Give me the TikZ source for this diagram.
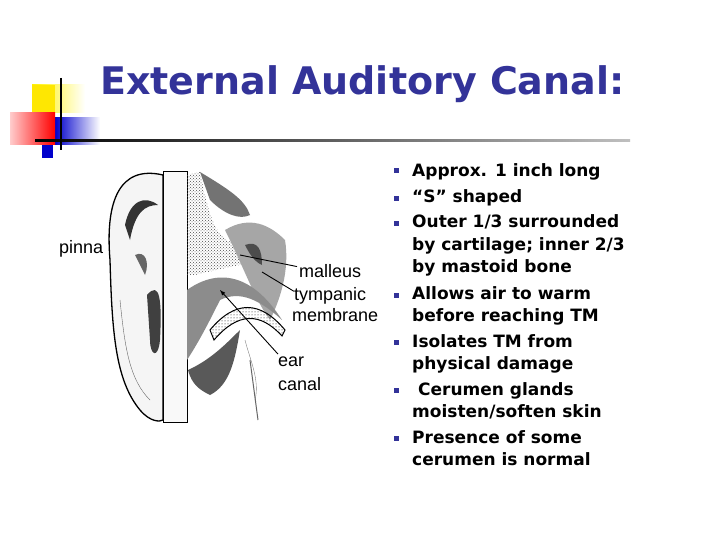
\documentclass[tikz,border=0pt]{standalone}
\usepackage{fontspec}
\setmainfont{DejaVu Sans}[BoldFont={DejaVu Sans Bold}]
\newfontfamily\labfont{Liberation Sans}
\usetikzlibrary{patterns}
\definecolor{titleblue}{HTML}{333399}
\begin{document}
\begin{tikzpicture}[x=1pt,y=-1pt,
  bul/.style={fill=titleblue,minimum size=5pt,inner sep=0pt},
  txt/.style={anchor=base west,inner sep=0pt,font=\bfseries\fontsize{17}{20}\selectfont},
  lab/.style={anchor=base west,inner sep=0pt,font=\labfont\fontsize{18}{20}\selectfont},
  ptr/.style={draw=black,line width=0.9pt}]
\useasboundingbox (0,0) rectangle (720,540);
\fill[white] (0,0) rectangle (720,540);
% decoration
\shade[left color=yellow!90!orange,right color=white] (32,85) rectangle (85,113);
\fill[yellow!90!orange] (32,85) rectangle (55,113);
\shade[left color=blue!80!black,right color=white] (55,118) rectangle (100,145);
\fill[blue!80!black] (42,145) rectangle (53,158);
\shade[left color=red!20,right color=red] (10,113) rectangle (55,145);
\shade[left color=black,right color=gray!50] (35,140) rectangle (630,142);
\draw[line width=1.6pt] (61,78) -- (61,150);
\node[anchor=base west,inner sep=0pt,text=titleblue,font=\bfseries\fontsize{38}{44}\selectfont] (title) at (100,95) {External Auditory Canal:};
% ear drawing
\draw[line width=1.3pt,fill=gray!8] (163,175) .. controls (120,165) and (105,200) .. (110,260)
  .. controls (112,330) and (115,380) .. (140,410) .. controls (150,422) and (160,422) .. (163,420) -- cycle;
\fill[black!80] (125,225) .. controls (130,200) and (145,195) .. (158,205) .. controls (145,205) and (135,212) .. (130,240) -- cycle;
\fill[black!75] (147,295) .. controls (160,280) and (162,300) .. (160,340) .. controls (158,360) and (150,355) .. (150,340) -- cycle;
\fill[black!60] (135,255) .. controls (145,250) and (150,262) .. (145,275) -- cycle;
\draw[black!60] (120,300) .. controls (125,350) and (130,380) .. (150,400);
\draw[line width=1pt,fill=gray!5] (163,172) rectangle (187,422);
\fill[pattern=crosshatch dots,pattern color=black!70] (187,175) -- (200,172) .. controls (210,220) and (215,240) .. (240,245) -- (260,235) -- (262,260) .. controls (240,265) and (215,270) .. (195,275) -- (187,275) -- cycle;
\fill[black!55] (200,172) .. controls (230,190) and (245,200) .. (250,215) .. controls (240,220) and (225,215) .. (210,200) -- cycle;
\fill[black!35] (225,230) .. controls (250,215) and (270,225) .. (285,240) .. controls (290,270) and (280,300) .. (270,320) .. controls (255,300) and (245,270) .. (225,230);
\fill[black!70] (245,245) .. controls (258,240) and (262,250) .. (262,265) .. controls (255,262) and (250,255) .. (245,245);
\fill[black!45] (187,290) .. controls (215,270) and (250,270) .. (282,320) .. controls (260,300) and (240,290) .. (220,300) .. controls (210,320) and (200,340) .. (187,360) -- cycle;
\draw[line width=1pt,pattern=dots] (210,330) .. controls (235,300) and (260,300) .. (285,330) -- (282,336) .. controls (260,312) and (238,312) .. (214,340) -- cycle;
\fill[black!65] (188,370) .. controls (210,360) and (225,345) .. (240,330) .. controls (235,360) and (230,385) .. (210,395) .. controls (200,390) and (192,385) .. (188,370);
\draw[black!50] (245,340) .. controls (250,360) and (260,380) .. (255,400);
\draw[black!60,line width=1pt] (250,360) -- (258,420);
% labels
\node[lab] (pinna) at (59,253) {pinna};
\node[lab] (mall) at (299,277) {malleus};
\node[lab] (tymp) at (294,300) {tympanic};
\node[lab] (memb) at (292,321) {membrane};
\node[lab] (ear) at (278,366) {ear};
\node[lab] (canal) at (278,390) {canal};
\coordinate (mallT) at (240,255);
\coordinate (tympT) at (262,272);
\coordinate (canT) at (220,290);
\draw[ptr] (mall.west) ++(-2,-4) -- (mallT);
\draw[ptr] (tymp.west) ++(0,-4) -- (tympT);
\draw[ptr,-latex] (ear.north west) ++(0,-2) -- (canT);
% bullets
\foreach \y in {171,199,224,295,342,390,438} \node[bul] at (396,\y) {};
\node[txt] (t1) at (412,177) {Approx. 1 inch long};
\node[txt] (t2) at (412,203) {“S” shaped};
\node[txt] (t3) at (412,228) {Outer 1/3 surrounded};
\node[txt] (t3b) at (412,250) {by cartilage; inner 2/3};
\node[txt] (t3c) at (412,272) {by mastoid bone};
\node[txt] (t4) at (412,299) {Allows air to warm};
\node[txt] (t4b) at (412,321) {before reaching TM};
\node[txt] (t5) at (412,347) {Isolates TM from};
\node[txt] (t5b) at (412,369) {physical damage};
\node[txt] (t6) at (412,395) {\ Cerumen glands};
\node[txt] (t6b) at (412,417) {moisten/soften skin};
\node[txt] (t7) at (412,443) {Presence of some};
\node[txt] (t7b) at (412,465) {cerumen is normal};
\end{tikzpicture}
\end{document}
